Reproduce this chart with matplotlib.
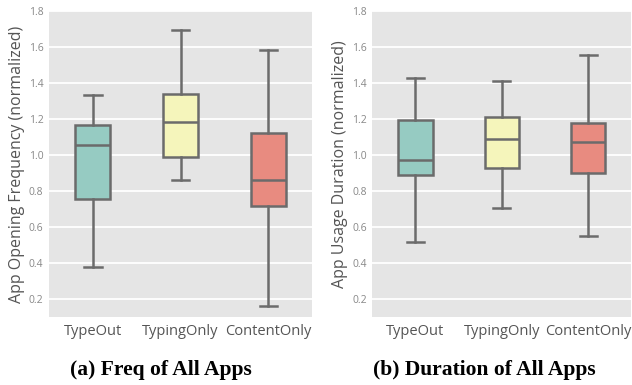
import matplotlib
matplotlib.use("Agg")
import matplotlib.pyplot as plt

groups = ["TypeOut", "TypingOnly", "ContentOnly"]
colors = ["#96CBC2", "#F5F5BB", "#E88B80"]

# whisker low, Q1, median, Q3, whisker high
freq_low = [0.378, 0.861, 0.161]
freq_q1 = [0.756, 0.989, 0.717]
freq_med = [1.056, 1.183, 0.861]
freq_q3 = [1.167, 1.340, 1.122]
freq_high = [1.335, 1.694, 1.583]

dur_low = [0.517, 0.706, 0.550]
dur_q1 = [0.889, 0.928, 0.900]
dur_med = [0.972, 1.089, 1.072]
dur_q3 = [1.194, 1.211, 1.178]
dur_high = [1.428, 1.410, 1.556]

line_col = "#6b6b6b"


def draw(ax, low, q1, med, q3, high, ylabel, caption, cap_x):
    stats = []
    for i in range(len(groups)):
        stats.append(dict(whislo=low[i], q1=q1[i], med=med[i], q3=q3[i],
                          whishi=high[i], fliers=[], label=groups[i]))
    bp = ax.bxp(stats, positions=range(len(groups)), widths=0.4,
                patch_artist=True, showfliers=False,
                boxprops=dict(edgecolor=line_col, linewidth=1.8),
                medianprops=dict(color=line_col, linewidth=1.8),
                whiskerprops=dict(color=line_col, linewidth=1.8),
                capprops=dict(color=line_col, linewidth=1.8))
    for patch, c in zip(bp["boxes"], colors):
        patch.set_facecolor(c)
    ax.set_facecolor("#E5E5E5")
    ax.set_xlim(-0.5, 2.5)
    ax.set_ylim(0.1, 1.8)
    ax.set_yticks([0.2, 0.4, 0.6, 0.8, 1.0, 1.2, 1.4, 1.6, 1.8])
    ax.set_yticklabels(["0.2", "0.4", "0.6", "0.8", "1.0", "1.2", "1.4", "1.6", "1.8"])
    ax.yaxis.grid(True, color="white", linewidth=1.3)
    ax.set_axisbelow(True)
    for s in ax.spines.values():
        s.set_visible(False)
    ax.tick_params(axis="y", length=0, labelsize=7.5, labelcolor="#888888", pad=4)
    ax.tick_params(axis="x", length=0, labelsize=10.5, labelcolor="#555555", pad=5)
    ax.set_ylabel(ylabel, fontsize=11.5, color="#555555", labelpad=3)
    fig.text(cap_x, 0.039, caption, ha="center", va="center",
             fontsize=15.5, fontweight="bold", family="Liberation Serif")


plt.rcParams["font.family"] = ["Open Sans", "DejaVu Sans"]
fig = plt.figure(figsize=(6.32, 3.85), dpi=100)
ax1 = fig.add_axes([0.0775, 0.177, 0.4165, 0.794])
ax2 = fig.add_axes([0.589, 0.177, 0.41, 0.794])

draw(ax1, freq_low, freq_q1, freq_med, freq_q3, freq_high,
     "App Opening Frequency (normalized)", "(a) Freq of All Apps", 0.255)
draw(ax2, dur_low, dur_q1, dur_med, dur_q3, dur_high,
     "App Usage Duration (normalized)", "(b) Duration of All Apps", 0.766)

fig.savefig("out.png", dpi=100)
